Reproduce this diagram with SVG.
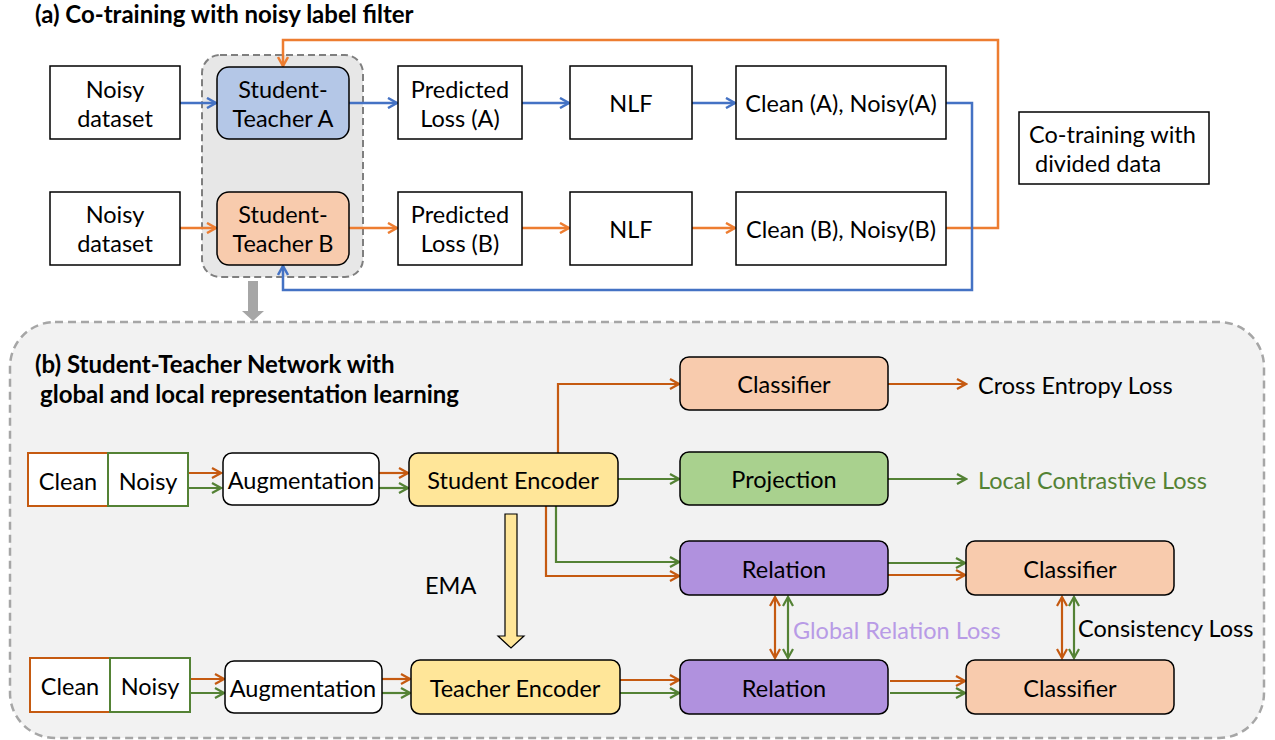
<svg xmlns="http://www.w3.org/2000/svg" width="1275" height="740" viewBox="0 0 1275 740">
<defs>
<style>
text{font-family:Lato,"Liberation Sans",sans-serif;fill:#000;}
.t{font-size:23.5px;text-anchor:middle;dominant-baseline:central;}
.l{font-size:23.5px;dominant-baseline:central;}
.ttl{font-size:24px;font-weight:bold;}
.box{fill:#fff;stroke:#000;stroke-width:1.5;}
.rbox{stroke:#000;stroke-width:1.5;}
.blue{stroke:#4472c4;stroke-width:2.5;fill:none;}
.org{stroke:#ed7d31;stroke-width:2.5;fill:none;}
.dor{stroke:#c55a11;stroke-width:2.2;fill:none;}
.grn{stroke:#548235;stroke-width:2.2;fill:none;}
</style>
<marker id="mb" viewBox="0 0 12 12" refX="10" refY="6" markerWidth="12" markerHeight="12" markerUnits="userSpaceOnUse" orient="auto-start-reverse"><path d="M1,1 L10,6 L1,11" fill="none" stroke="#4472c4" stroke-width="2.5"/></marker>
<marker id="mo" viewBox="0 0 12 12" refX="10" refY="6" markerWidth="12" markerHeight="12" markerUnits="userSpaceOnUse" orient="auto-start-reverse"><path d="M1,1 L10,6 L1,11" fill="none" stroke="#ed7d31" stroke-width="2.5"/></marker>
<marker id="md" viewBox="0 0 12 12" refX="10" refY="6" markerWidth="12" markerHeight="12" markerUnits="userSpaceOnUse" orient="auto-start-reverse"><path d="M1,1 L10,6 L1,11" fill="none" stroke="#c55a11" stroke-width="2.2"/></marker>
<marker id="mg" viewBox="0 0 12 12" refX="10" refY="6" markerWidth="12" markerHeight="12" markerUnits="userSpaceOnUse" orient="auto-start-reverse"><path d="M1,1 L10,6 L1,11" fill="none" stroke="#548235" stroke-width="2.2"/></marker>
</defs>
<rect width="1275" height="740" fill="#fff"/>

<!-- containers -->
<g id="section-b">
<rect x="10" y="322" width="1254" height="416" rx="45" fill="#f2f2f2" stroke="#a6a6a6" stroke-width="2.5" stroke-dasharray="8,5"/>
</g>
<g id="st-group">
<rect x="202" y="55" width="161" height="222" rx="18" fill="#e7e7e7" stroke="#7f7f7f" stroke-width="2" stroke-dasharray="7,4"/>
</g>

<text x="35" y="23" class="ttl">(a) Co-training with noisy label filter</text>
<text x="35" y="373" class="ttl">(b) Student-Teacher Network with</text>
<text x="40" y="403" class="ttl">global and local representation learning</text>

<!-- connectors -->
<g id="connectors">
<line x1="180" y1="103" x2="216" y2="103" class="blue" marker-end="url(#mb)"/>
<line x1="349" y1="103" x2="397" y2="103" class="blue" marker-end="url(#mb)"/>
<line x1="522" y1="103" x2="569" y2="103" class="blue" marker-end="url(#mb)"/>
<line x1="692" y1="103" x2="735" y2="103" class="blue" marker-end="url(#mb)"/>
<line x1="180" y1="228" x2="216" y2="228" class="org" marker-end="url(#mo)"/>
<line x1="349" y1="228" x2="397" y2="228" class="org" marker-end="url(#mo)"/>
<line x1="522" y1="228" x2="569" y2="228" class="org" marker-end="url(#mo)"/>
<line x1="692" y1="228" x2="735" y2="228" class="org" marker-end="url(#mo)"/>
<polyline points="946,228 998,228 998,40 283,40 283,66" class="org" marker-end="url(#mo)"/>
<polyline points="946,103 972,103 972,290 283,290 283,266" class="blue" marker-end="url(#mb)"/>
<path d="M248,281 H258 V311 H264 L253,321 L242,311 H248 Z" fill="#a6a6a6"/>

<!-- section b row 1 -->
<line x1="188" y1="473" x2="221" y2="473" class="dor" marker-end="url(#md)"/>
<line x1="188" y1="488" x2="221" y2="488" class="grn" marker-end="url(#mg)"/>
<line x1="379" y1="473" x2="408" y2="473" class="dor" marker-end="url(#md)"/>
<line x1="379" y1="488" x2="408" y2="488" class="grn" marker-end="url(#mg)"/>
<polyline points="558,453 558,384 679,384" class="dor" marker-end="url(#md)"/>
<line x1="618" y1="479" x2="679" y2="479" class="grn" marker-end="url(#mg)"/>
<polyline points="556,506 556,562 679,562" class="grn" marker-end="url(#mg)"/>
<polyline points="546,506 546,576 679,576" class="dor" marker-end="url(#md)"/>
<line x1="888" y1="384" x2="966" y2="384" class="dor" marker-end="url(#md)"/>
<line x1="888" y1="479" x2="966" y2="479" class="grn" marker-end="url(#mg)"/>
<line x1="888" y1="563" x2="965" y2="563" class="grn" marker-end="url(#mg)"/>
<line x1="888" y1="575" x2="965" y2="575" class="dor" marker-end="url(#md)"/>
<!-- row 2 -->
<line x1="190" y1="679" x2="224" y2="679" class="dor" marker-end="url(#md)"/>
<line x1="190" y1="693" x2="224" y2="693" class="grn" marker-end="url(#mg)"/>
<line x1="382" y1="679" x2="410" y2="679" class="dor" marker-end="url(#md)"/>
<line x1="382" y1="693" x2="410" y2="693" class="grn" marker-end="url(#mg)"/>
<line x1="620" y1="680" x2="679" y2="680" class="dor" marker-end="url(#md)"/>
<line x1="620" y1="693" x2="679" y2="693" class="grn" marker-end="url(#mg)"/>
<line x1="890" y1="681" x2="965" y2="681" class="dor" marker-end="url(#md)"/>
<line x1="890" y1="693" x2="965" y2="693" class="grn" marker-end="url(#mg)"/>
<!-- vertical double arrows -->
<line x1="775" y1="597" x2="775" y2="658" class="dor" marker-start="url(#md)" marker-end="url(#md)"/>
<line x1="788" y1="597" x2="788" y2="658" class="grn" marker-start="url(#mg)" marker-end="url(#mg)"/>
<line x1="1062" y1="597" x2="1062" y2="658" class="dor" marker-start="url(#md)" marker-end="url(#md)"/>
<line x1="1074" y1="597" x2="1074" y2="658" class="grn" marker-start="url(#mg)" marker-end="url(#mg)"/>
<!-- EMA arrow -->
<path d="M505,514 H517 V636 H524 L511,648 L498,636 H505 Z" fill="#ffe699" stroke="#000" stroke-width="1.2"/>
</g>

<!-- nodes (a) -->
<g id="noisy-a"><rect x="50" y="66" width="130" height="73" class="box"/><text x="115" y="89" class="t">Noisy</text><text x="115" y="118" class="t">dataset</text></g>
<g id="st-a"><rect x="217" y="67" width="132" height="72" rx="12" class="rbox" fill="#b4c7e7"/><text x="283" y="89" class="t">Student-</text><text x="283" y="118" class="t">Teacher A</text></g>
<g id="pl-a"><rect x="398" y="66" width="124" height="73" class="box"/><text x="460" y="89" class="t">Predicted</text><text x="460" y="118" class="t">Loss (A)</text></g>
<g id="nlf-a"><rect x="570" y="66" width="122" height="73" class="box"/><text x="631" y="103" class="t">NLF</text></g>
<g id="cn-a"><rect x="736" y="66" width="210" height="73" class="box"/><text x="841" y="103" class="t">Clean (A), Noisy(A)</text></g>
<g id="noisy-b"><rect x="50" y="192" width="130" height="73" class="box"/><text x="115" y="214" class="t">Noisy</text><text x="115" y="243" class="t">dataset</text></g>
<g id="st-b"><rect x="217" y="192" width="132" height="73" rx="12" class="rbox" fill="#f8cbad"/><text x="283" y="214" class="t">Student-</text><text x="283" y="243" class="t">Teacher B</text></g>
<g id="pl-b"><rect x="398" y="192" width="124" height="73" class="box"/><text x="460" y="214" class="t">Predicted</text><text x="460" y="243" class="t">Loss (B)</text></g>
<g id="nlf-b"><rect x="570" y="192" width="122" height="73" class="box"/><text x="631" y="229" class="t">NLF</text></g>
<g id="cn-b"><rect x="736" y="192" width="210" height="73" class="box"/><text x="841" y="229" class="t">Clean (B), Noisy(B)</text></g>
<g id="cotrain"><rect x="1019" y="112" width="190" height="72" class="box"/><text x="1029" y="134" class="l">Co-training with</text><text x="1035" y="163" class="l">divided data</text></g>

<!-- nodes (b) -->
<g id="clean-1"><rect x="28" y="453" width="80" height="53" fill="#fff" stroke="#c55a11" stroke-width="2"/><text x="68" y="481" class="t">Clean</text></g>
<g id="noisy-1"><rect x="108" y="453" width="80" height="53" fill="#fff" stroke="#548235" stroke-width="2"/><text x="148" y="481" class="t">Noisy</text></g>
<g id="aug-1"><rect x="223" y="453" width="156" height="52" rx="9" class="rbox" fill="#fff"/><text x="301" y="480" class="t">Augmentation</text></g>
<g id="student-enc"><rect x="409" y="453" width="209" height="53" rx="9" class="rbox" fill="#ffe699"/><text x="513" y="480" class="t">Student Encoder</text></g>
<g id="classifier-top"><rect x="680" y="357" width="208" height="53" rx="9" class="rbox" fill="#f8cbad"/><text x="784" y="384" class="t">Classifier</text></g>
<g id="projection"><rect x="680" y="452" width="208" height="53" rx="9" class="rbox" fill="#a9d18e"/><text x="784" y="479" class="t">Projection</text></g>
<g id="relation-1"><rect x="680" y="541" width="208" height="54" rx="9" class="rbox" fill="#b091de"/><text x="784" y="569" class="t">Relation</text></g>
<g id="classifier-1"><rect x="966" y="541" width="208" height="54" rx="9" class="rbox" fill="#f8cbad"/><text x="1070" y="569" class="t">Classifier</text></g>
<g id="clean-2"><rect x="30" y="658" width="80" height="54" fill="#fff" stroke="#c55a11" stroke-width="2"/><text x="70" y="686" class="t">Clean</text></g>
<g id="noisy-2"><rect x="110" y="658" width="80" height="54" fill="#fff" stroke="#548235" stroke-width="2"/><text x="150" y="686" class="t">Noisy</text></g>
<g id="aug-2"><rect x="225" y="661" width="157" height="52" rx="9" class="rbox" fill="#fff"/><text x="303" y="688" class="t">Augmentation</text></g>
<g id="teacher-enc"><rect x="411" y="660" width="209" height="54" rx="9" class="rbox" fill="#ffe699"/><text x="515" y="688" class="t">Teacher Encoder</text></g>
<g id="relation-2"><rect x="680" y="660" width="208" height="54" rx="9" class="rbox" fill="#b091de"/><text x="784" y="688" class="t">Relation</text></g>
<g id="classifier-2"><rect x="966" y="660" width="208" height="54" rx="9" class="rbox" fill="#f8cbad"/><text x="1070" y="688" class="t">Classifier</text></g>

<!-- labels -->
<g id="labels">
<text x="978" y="385" class="l">Cross Entropy Loss</text>
<text x="978" y="480" class="l" style="fill:#548235">Local Contrastive Loss</text>
<text x="793" y="630" class="l" style="fill:#b89be6">Global Relation Loss</text>
<text x="1078" y="628" class="l">Consistency Loss</text>
<text x="425" y="585" class="l">EMA</text>
</g>
</svg>
